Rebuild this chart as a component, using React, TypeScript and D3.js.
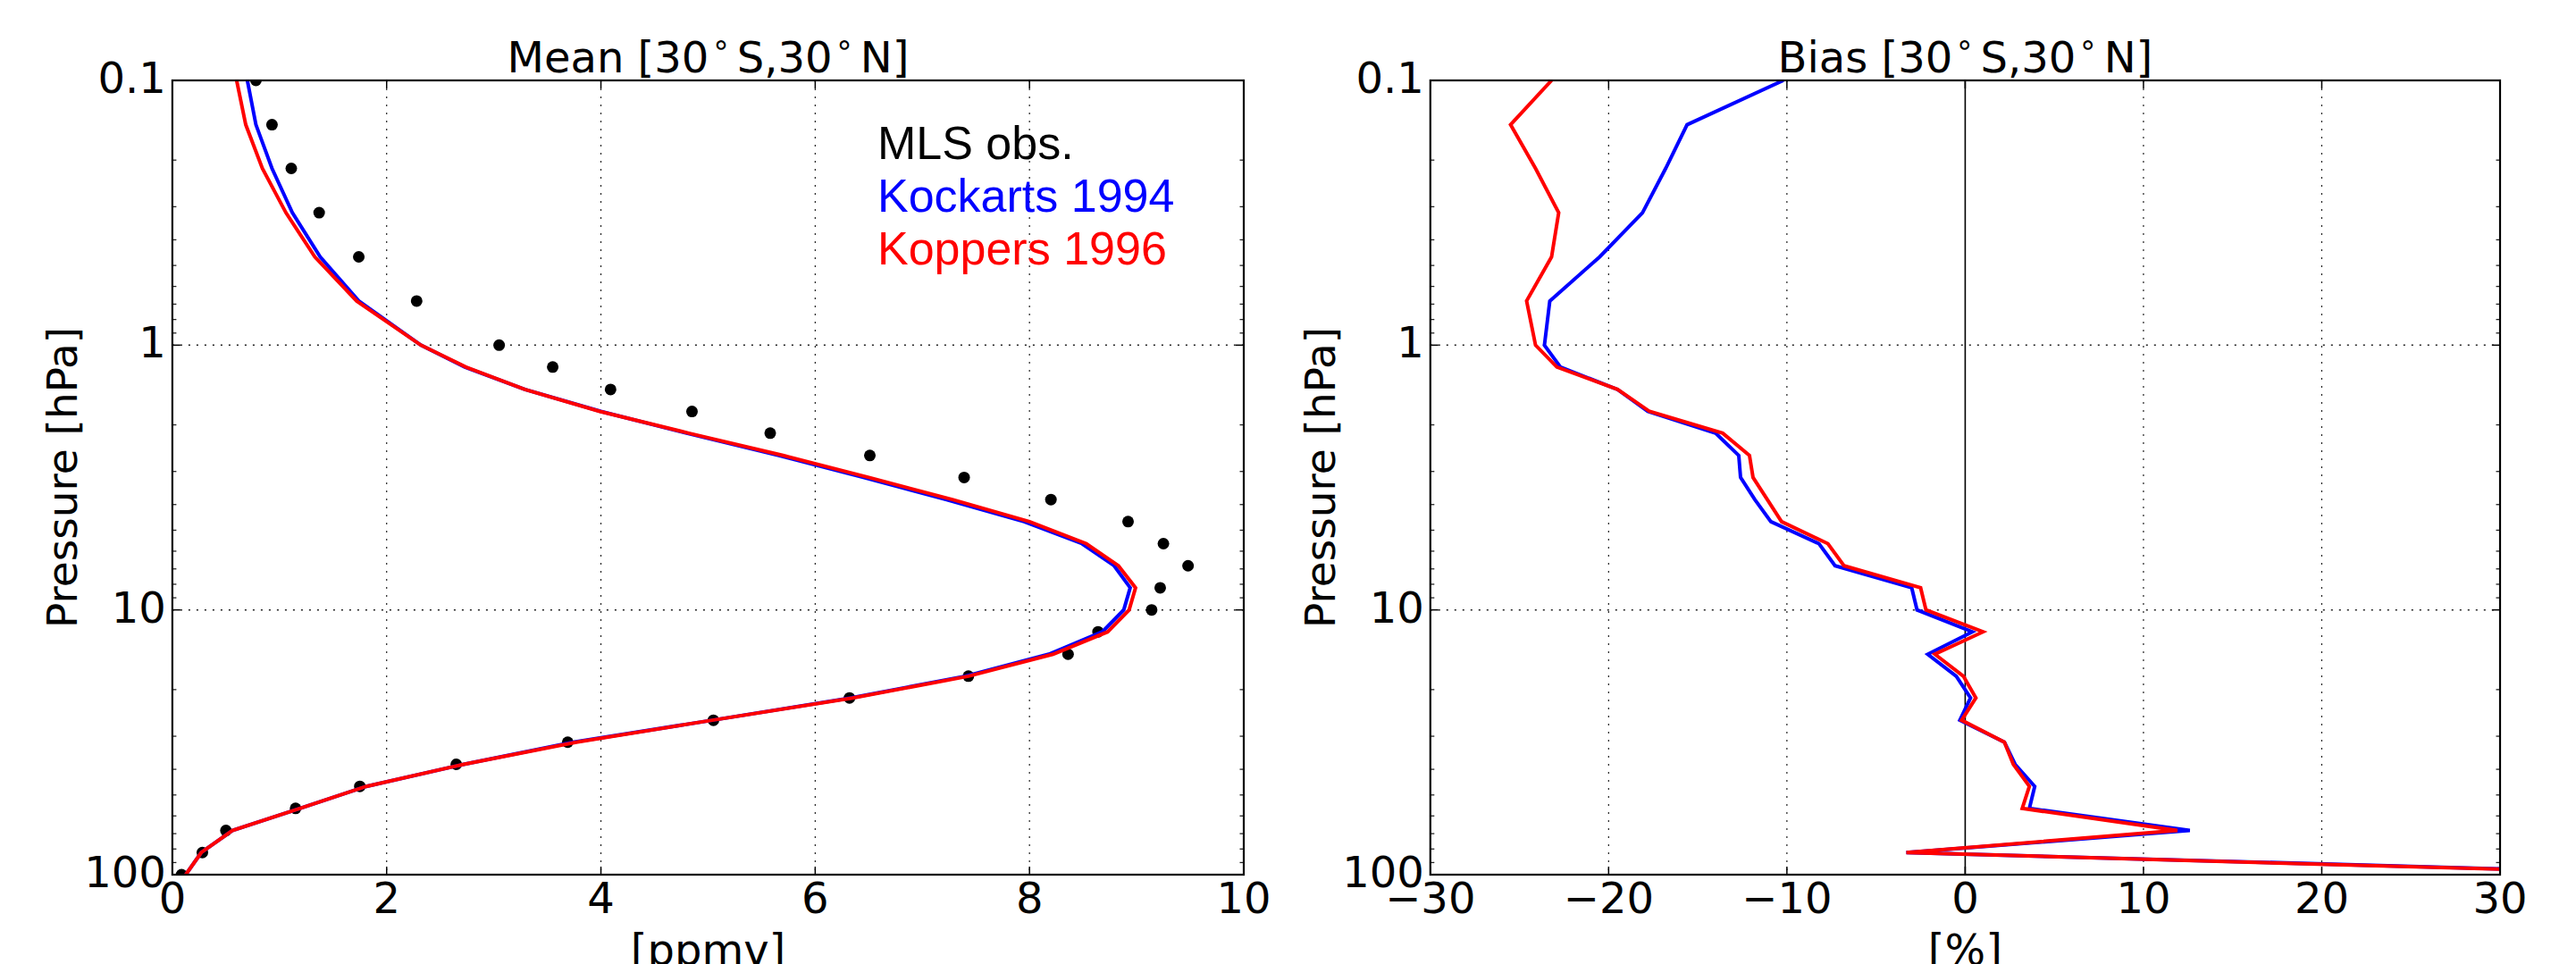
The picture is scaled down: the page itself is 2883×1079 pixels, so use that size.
import React from 'react';
import * as d3 from 'd3';

// ==== data

const levels = [0.1, 0.147, 0.215, 0.316, 0.464, 0.681, 1, 1.21, 1.47, 1.78, 2.15, 2.61, 3.16, 3.83, 4.64, 5.62, 6.81, 8.25, 10, 12.1, 14.7, 17.8, 21.5, 26.1, 31.6, 38.3, 46.4, 56.2, 68.1, 82.5, 100];

const mlsObs = [0.78, 0.93, 1.11, 1.37, 1.74, 2.28, 3.05, 3.55, 4.09, 4.85, 5.58, 6.51, 7.39, 8.20, 8.92, 9.25, 9.48, 9.22, 9.14, 8.64, 8.36, 7.43, 6.32, 5.05, 3.69, 2.65, 1.75, 1.15, 0.50, 0.28, 0.086];

const kockartsMean = [0.70, 0.78, 0.93, 1.12, 1.38, 1.74, 2.32, 2.73, 3.29, 4.00, 4.80, 5.66, 6.45, 7.22, 7.95, 8.49, 8.79, 8.94, 8.88, 8.68, 8.18, 7.40, 6.33, 5.04, 3.74, 2.72, 1.81, 1.19, 0.56, 0.27, 0.125];
const koppersMean = [0.60, 0.685, 0.84, 1.06, 1.33, 1.72, 2.32, 2.74, 3.29, 3.99, 4.82, 5.70, 6.50, 7.28, 8.00, 8.53, 8.83, 8.99, 8.93, 8.73, 8.22, 7.43, 6.35, 5.04, 3.77, 2.72, 1.81, 1.19, 0.56, 0.27, 0.125];

const kockartsBias = [-10.2, -15.6, -16.8, -18.1, -20.5, -23.3, -23.6, -22.7, -19.5, -17.8, -14.0, -12.7, -12.6, -11.8, -10.9, -8.2, -7.3, -3.0, -2.7, 0.4, -2.1, -0.5, 0.3, -0.3, 2.2, 2.8, 3.9, 3.6, 12.6, -3.3, 42];
const koppersBias = [-23.2, -25.5, -24.1, -22.8, -23.2, -24.6, -24.1, -22.9, -19.5, -17.7, -13.6, -12.1, -11.9, -11.1, -10.3, -7.7, -6.8, -2.5, -2.2, 1.0, -1.7, -0.1, 0.6, -0.2, 2.2, 2.7, 3.6, 3.2, 11.9, -3.3, 41];

const yTicks = [0.1, 1, 10, 100];
const yTickLabels = ['0.1', '1', '10', '100'];
const meanTicks = [0, 2, 4, 6, 8, 10];
const biasTicks = [-30, -20, -10, 0, 10, 20, 30];

// ====

const W = 2883;
const H = 1079;
const TOP = 90;
const BOTTOM = 979;
const FONT = '"DejaVu Sans", sans-serif';

const y = d3.scaleLog().domain([0.1, 100]).range([TOP, BOTTOM]);

const minorTicks: number[] = [];
[0.1, 1, 10].forEach((d) => {
    for (let k = 2; k <= 9; k++) minorTicks.push(d * k);
});

function Title({ x, word }: { x: number; word: string }) {
    return (
        <text x={x} y={81} textAnchor="middle" fontFamily={FONT} fontSize={48}>
            {word} [30<tspan fontSize={34} dx={3} dy={-20}>∘</tspan>
            <tspan dx={7} dy={20}>S,30</tspan>
            <tspan fontSize={34} dx={3} dy={-20}>∘</tspan>
            <tspan dx={7} dy={20}>N]</tspan>
        </text>
    );
}

function Frame({ x, ticks, grid, fmt, id }: any) {
    const [x0, x1] = x.range();
    return (
        <g>
            <clipPath id={id}>
                <rect x={x0} y={TOP} width={x1 - x0} height={BOTTOM - TOP} />
            </clipPath>
            {/* grid */}
            {grid.map((t: number) => (
                <line key={'gx' + t} x1={x(t)} x2={x(t)} y1={TOP} y2={BOTTOM}
                    stroke="#222" strokeWidth={1.2} strokeDasharray="2,7" />
            ))}
            {[1, 10].map((t) => (
                <line key={'gy' + t} x1={x0} x2={x1} y1={y(t)} y2={y(t)}
                    stroke="#222" strokeWidth={1.5} strokeDasharray="2,7" />
            ))}
            {/* minor y ticks on both sides */}
            {minorTicks.map((t) => (
                <g key={'m' + t}>
                    <line x1={x0} x2={x0 + 4.5} y1={y(t)} y2={y(t)} stroke="#222" strokeWidth={1.3} />
                    <line x1={x1} x2={x1 - 4.5} y1={y(t)} y2={y(t)} stroke="#222" strokeWidth={1.3} />
                </g>
            ))}
            {yTicks.map((t, i) => (
                <g key={'y' + t}>
                    <line x1={x0} x2={x0 + 9} y1={y(t)} y2={y(t)} stroke="#000" strokeWidth={1.5} />
                    <line x1={x1} x2={x1 - 9} y1={y(t)} y2={y(t)} stroke="#000" strokeWidth={1.5} />
                    <text x={x0 - 7} y={y(t) + 14} textAnchor="end" fontFamily={FONT} fontSize={48}>
                        {yTickLabels[i]}
                    </text>
                </g>
            ))}
            {ticks.map((t: number) => (
                <g key={'x' + t}>
                    <line x1={x(t)} x2={x(t)} y1={BOTTOM} y2={BOTTOM - 9} stroke="#000" strokeWidth={1.5} />
                    <line x1={x(t)} x2={x(t)} y1={TOP} y2={TOP + 9} stroke="#000" strokeWidth={1.5} />
                    <text x={x(t)} y={1022} textAnchor="middle" fontFamily={FONT} fontSize={48}>
                        {fmt(t)}
                    </text>
                </g>
            ))}
            <text transform={`translate(${x0 - 107},${(TOP + BOTTOM) / 2}) rotate(-90)`}
                textAnchor="middle" fontFamily={FONT} fontSize={47}>
                Pressure [hPa]
            </text>
        </g>
    );
}

function Spines({ x }: any) {
    const [x0, x1] = x.range();
    return <rect x={x0} y={TOP} width={x1 - x0} height={BOTTOM - TOP} fill="none" stroke="#000" strokeWidth={2.2} />;
}

export default function App() {
    const xMean = d3.scaleLinear().domain([0, 10]).range([192.9, 1392]);
    const xBias = d3.scaleLinear().domain([-30, 30]).range([1600.8, 2798]);

    const lineOf = (sx: any, vals: number[]) =>
        d3.line<number>().x((d) => sx(d)).y((_, i) => y(levels[i]))(vals) || '';

    const minus = (t: number) => (t < 0 ? '\u2212' + Math.abs(t) : String(t));

    return (
        <svg width={W} height={H} style={{ position: 'absolute', left: 0, top: 0, background: '#fff' }}>
            <rect x={0} y={0} width={W} height={H} fill="#fff" />

            {/* ==== left: mean */}
            <Frame x={xMean} ticks={meanTicks} grid={[2, 4, 6, 8]} fmt={String} id="clipMean" />
            <g clipPath="url(#clipMean)">
                {mlsObs.map((v, i) => (
                    <circle key={i} cx={xMean(v)} cy={y(levels[i])} r={6.5} fill="#000" />
                ))}
                <path d={lineOf(xMean, kockartsMean)} fill="none" stroke="#0000ff" strokeWidth={4} strokeLinejoin="miter" />
                <path d={lineOf(xMean, koppersMean)} fill="none" stroke="#ff0000" strokeWidth={4} strokeLinejoin="miter" />
            </g>
            <Spines x={xMean} />
            <Title x={792.5} word="Mean" />
            <text x={792.5} y={1080} textAnchor="middle" fontFamily={FONT} fontSize={48}>[ppmv]</text>
            <g fontFamily='"Liberation Sans", Arial, sans-serif' fontSize={52}>
                <text x={982} y={178} fill="#000">MLS obs.</text>
                <text x={982} y={237} fill="#0000ff">Kockarts 1994</text>
                <text x={982} y={296} fill="#ff0000">Koppers 1996</text>
            </g>

            {/* ==== right: bias */}
            <Frame x={xBias} ticks={biasTicks} grid={[-20, -10, 10, 20]} fmt={minus} id="clipBias" />
            <line x1={xBias(0)} x2={xBias(0)} y1={TOP} y2={BOTTOM} stroke="#000" strokeWidth={1.6} />
            <g clipPath="url(#clipBias)">
                <path d={lineOf(xBias, kockartsBias)} fill="none" stroke="#0000ff" strokeWidth={4} strokeLinejoin="miter" />
                <path d={lineOf(xBias, koppersBias)} fill="none" stroke="#ff0000" strokeWidth={4} strokeLinejoin="miter" />
            </g>
            <Spines x={xBias} />
            <Title x={2199.4} word="Bias" />
            <text x={2199.4} y={1080} textAnchor="middle" fontFamily={FONT} fontSize={48}>[%]</text>
        </svg>
    );
}
